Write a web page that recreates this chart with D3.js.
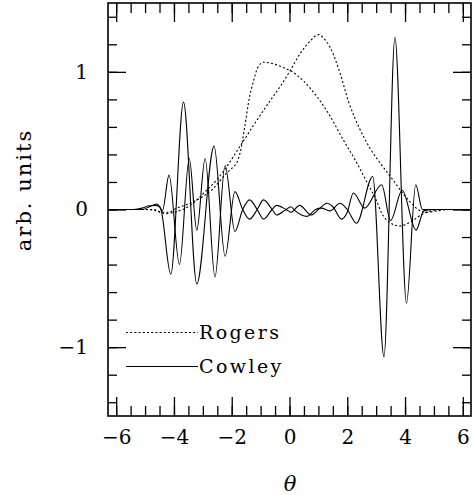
<!DOCTYPE html>
<html>
<head>
<meta charset="utf-8">
<script src="https://cdn.jsdelivr.net/npm/d3@7/dist/d3.min.js"></script>
<style>
  body { margin: 0; background: #fff; }
  svg { display: block; }
  .axis text { font-family: "DejaVu Serif", serif; font-size: 20px; fill: #000; }
  .axis line { stroke: #000; stroke-width: 1.3; }
</style>
</head>
<body>
<svg id="chart"></svg>
<script>
// Rogers curves (dotted), [theta, value]
var rogersA = [
  [-6.28, 0], [-5.0, 0], [-4.7, 0], [-4.45, -0.02], [-4.2, -0.02], [-3.9, 0.01],
  [-3.5, 0.04], [-3.2, 0.07], [-2.65, 0.15], [-2.2, 0.26], [-1.95, 0.31], [-1.8, 0.35],
  [-1.7, 0.42], [-1.55, 0.6], [-1.4, 0.8], [-1.25, 0.93], [-1.1, 1.03], [-0.9, 1.07],
  [-0.6, 1.06], [-0.2, 1.03], [0.1, 1.0], [0.5, 0.93], [0.95, 0.82], [1.4, 0.68],
  [1.85, 0.51], [2.3, 0.35], [2.7, 0.19], [3.0, 0.07], [3.2, -0.03], [3.45, -0.09],
  [3.8, -0.12], [4.2, -0.09], [4.55, -0.04], [4.9, -0.01], [5.3, 0], [6.28, 0]
];
var rogersB = [
  [-6.28, 0], [-5.0, 0], [-4.6, -0.01], [-4.3, -0.03], [-4.0, -0.02], [-3.7, 0.0],
  [-3.44, 0.03], [-2.87, 0.14], [-2.5, 0.22], [-1.71, 0.46], [-1.25, 0.61], [-0.67, 0.79],
  [-0.3, 0.9], [0, 1.0], [0.36, 1.13], [0.7, 1.22], [1.0, 1.27], [1.2, 1.24],
  [1.4, 1.18], [1.75, 0.99], [2.05, 0.78], [2.4, 0.6], [2.8, 0.44], [3.2, 0.32],
  [3.6, 0.21], [3.95, 0.11], [4.2, 0.05], [4.45, 0.0], [4.75, -0.02], [5.1, -0.01],
  [5.5, 0], [6.28, 0]
];
// Cowley curves (solid)
var cowleyA = [
  [-6.28, 0], [-5.4, 0], [-5.1, 0.01], [-4.9, 0.025], [-4.65, 0.03], [-4.5, 0.02],
  [-4.4, -0.01], [-4.17, 0.25], [-3.81, -0.40], [-3.47, 0.37], [-3.21, -0.15],
  [-2.92, 0.37], [-2.58, -0.49], [-2.23, 0.32], [-1.89, -0.16],
  [-1.62, 0.0], [-1.38, 0.07], [-1.12, 0.0],
  [-0.9, -0.07], [-0.6, 0.0], [-0.45, 0.03], [-0.12, 0.0],
  [0.05, -0.02], [0.35, 0.03], [0.75, -0.04],
  [1.0, 0.0], [1.3, 0.045], [1.5, 0.02], [1.8, -0.07], [2.0, -0.02], [2.21, 0.12],
  [2.6, 0.01], [3.19, 0.18], [3.5, -0.08], [3.9, 0.14],
  [4.38, -0.15], [4.65, -0.01], [5.0, 0], [6.28, 0]
];
var cowleyB = [
  [-6.28, 0], [-5.4, 0], [-5.1, 0.0], [-4.85, 0.02], [-4.6, 0.04], [-4.45, 0.0],
  [-4.11, -0.47], [-3.67, 0.78], [-3.21, -0.54], [-2.61, 0.46], [-2.23, -0.34],
  [-1.89, 0.13], [-1.62, 0.0], [-1.38, -0.07],
  [-1.12, 0.0], [-0.9, 0.07], [-0.6, 0.0],
  [-0.45, -0.04], [-0.12, 0.0], [0.05, 0.02], [0.2, -0.01], [0.6, -0.05],
  [0.9, 0.0], [1.1, 0.01], [1.4, -0.01], [1.75, 0.045], [2.0, 0.0],
  [2.32, -0.10], [2.88, 0.24], [3.27, -1.07], [3.65, 1.25], [4.05, -0.68],
  [4.37, 0.18], [4.6, 0.0], [6.28, 0]
];

var xMajor = [-6, -4, -2, 0, 2, 4, 6];
var xMinor = d3.range(-6, 6.01, 0.5);
var yMajor = [-1, 0, 1];
var yMinor = d3.range(-1.4, 1.41, 0.2);
var legendNames = ["Rogers", "Cowley"];

var width = 473, height = 495;
var frame = { left: 108, right: 471, top: 3, bottom: 416 };

var svg = d3.select('#chart').attr('width', width).attr('height', height);

var xScale = d3.scaleLinear().domain([-2 * Math.PI, 2 * Math.PI]).range([frame.left, frame.right]);
var yScale = d3.scaleLinear().domain([-1.5, 1.5]).range([frame.bottom, frame.top]);

// axes - ticks point inward on all four sides
function addAxis(axis, tx, ty) {
  var g = svg.append('g')
    .attr('class', 'axis')
    .attr('transform', 'translate(' + tx + ',' + ty + ')')
    .call(axis);
  g.select('.domain').remove();
  return g;
}

addAxis(d3.axisBottom(xScale).tickValues(xMinor).tickSize(-10).tickFormat(''), 0, frame.bottom);
addAxis(d3.axisBottom(xScale).tickValues(xMajor).tickSize(-19).tickPadding(14).tickFormat(d3.format('d')), 0, frame.bottom);
addAxis(d3.axisTop(xScale).tickValues(xMinor).tickSize(-10).tickFormat(''), 0, frame.top);
addAxis(d3.axisTop(xScale).tickValues(xMajor).tickSize(-19).tickFormat(''), 0, frame.top);

addAxis(d3.axisLeft(yScale).tickValues(yMinor).tickSize(-9).tickFormat(''), frame.left, 0);
addAxis(d3.axisLeft(yScale).tickValues(yMajor).tickSize(-18).tickPadding(20).tickFormat(d3.format('d')), frame.left, 0);
addAxis(d3.axisRight(yScale).tickValues(yMinor).tickSize(-9).tickFormat(''), frame.right, 0);
addAxis(d3.axisRight(yScale).tickValues(yMajor).tickSize(-18).tickFormat(''), frame.right, 0);

var smooth = d3.line()
  .x(function(d) { return xScale(d[0]); })
  .y(function(d) { return yScale(d[1]); })
  .curve(d3.curveMonotoneX);

var plot = svg.append('g');

[rogersA, rogersB].forEach(function(s) {
  plot.append('path').datum(s)
    .attr('d', smooth)
    .attr('fill', 'none')
    .attr('stroke', '#000')
    .attr('stroke-width', 1.1)
    .attr('stroke-dasharray', '2,2.2');
});

[cowleyA, cowleyB].forEach(function(s) {
  plot.append('path').datum(s)
    .attr('d', smooth)
    .attr('fill', 'none')
    .attr('stroke', '#000')
    .attr('stroke-width', 1.1);
});

// frame
svg.append('rect')
  .attr('x', frame.left).attr('y', frame.top)
  .attr('width', frame.right - frame.left).attr('height', frame.bottom - frame.top)
  .attr('fill', 'none').attr('stroke', '#000').attr('stroke-width', 1.6);

// legend
var legend = svg.append('g');
legendNames.forEach(function(name, i) {
  var y = 332.5 + i * 34;
  legend.append('line')
    .attr('x1', 126).attr('x2', 198).attr('y1', y).attr('y2', y)
    .attr('stroke', '#000').attr('stroke-width', 1.1)
    .attr('stroke-dasharray', i === 0 ? '2,2.2' : null);
  legend.append('text')
    .attr('x', 199).attr('y', y + 6.5)
    .style('font-family', '"DejaVu Serif", serif')
    .style('font-size', '19px')
    .style('letter-spacing', '2.4px')
    .text(name);
});

// axis titles
svg.append('text')
  .attr('x', 290).attr('y', 491)
  .attr('text-anchor', 'middle')
  .style('font-family', '"DejaVu Serif", serif')
  .style('font-style', 'italic')
  .style('font-size', '21px')
  .text('θ');

svg.append('text')
  .attr('transform', 'translate(31,190) rotate(-90)')
  .attr('text-anchor', 'middle')
  .style('font-family', '"DejaVu Serif", serif')
  .style('font-size', '21px')
  .style('letter-spacing', '2px')
  .text('arb. units');
</script>
</body>
</html>
